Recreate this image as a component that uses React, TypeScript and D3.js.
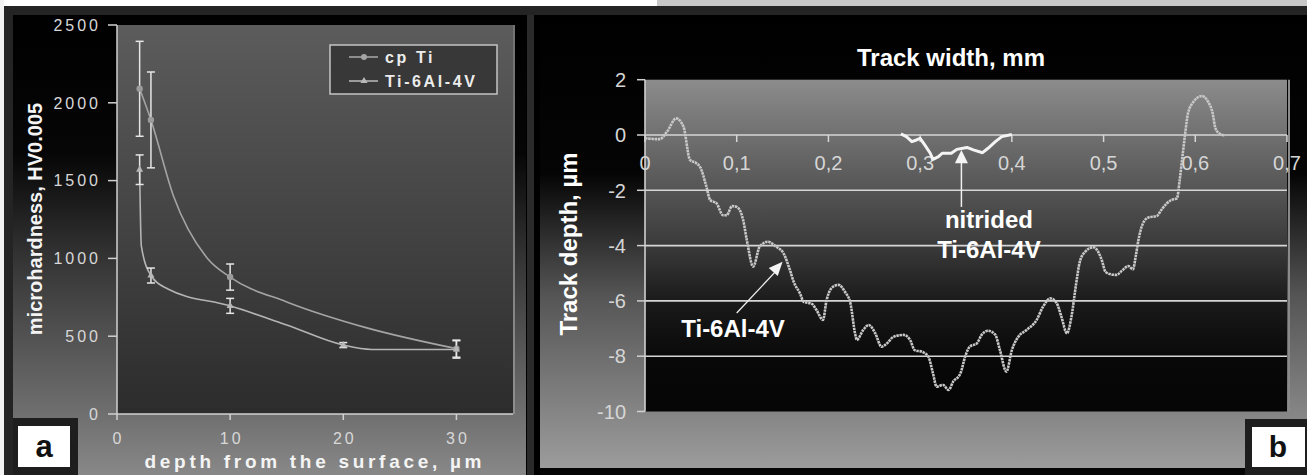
import React from 'react';
import * as d3 from 'd3';

// ---- panel a : microhardness vs depth ----
const cpTiDepth = [2, 3, 10, 30];
const cpTiMean = [2090, 1890, 880, 420];
const cpTiErr = [305, 308, 84, 55];
const cpTiCurveDepth = [2, 3, 5, 8, 10, 15, 22, 30];
const cpTiCurve = [2090, 1890, 1400, 1000, 880, 720, 555, 420];

const tiAlDepth = [2, 3, 10, 20, 30];
const tiAlMean = [1570, 890, 695, 443, 415];
const tiAlErr = [95, 48, 48, 16, 56];
const tiAlCurveDepth = [2, 2.15, 3, 4.5, 10, 15, 20, 22.5, 30];
const tiAlCurve = [1570, 1080, 890, 803, 695, 572, 443, 415, 415];

const hardTicks = [0, 500, 1000, 1500, 2000, 2500];
const depthTicks = [0, 10, 20, 30];

// ---- panel b : wear track profile ----
const profileWidth = [0, 0.016, 0.024, 0.034, 0.042, 0.049, 0.056, 0.06, 0.067, 0.071, 0.078, 0.085, 0.089, 0.095, 0.1,
  0.107, 0.111, 0.118, 0.125, 0.134, 0.143, 0.151, 0.158, 0.162, 0.169, 0.173, 0.182, 0.187, 0.194, 0.198, 0.205,
  0.211, 0.218, 0.224, 0.229, 0.231, 0.238, 0.244, 0.251, 0.258, 0.264, 0.271, 0.282, 0.289, 0.294, 0.302, 0.309,
  0.314, 0.318, 0.325, 0.331, 0.336, 0.344, 0.349, 0.354, 0.362, 0.367, 0.374, 0.382, 0.387, 0.394, 0.4, 0.407,
  0.416, 0.427, 0.434, 0.442, 0.449, 0.454, 0.46, 0.465, 0.47, 0.474, 0.48, 0.489, 0.494, 0.498, 0.502, 0.507,
  0.514, 0.52, 0.527, 0.532, 0.535, 0.538, 0.543, 0.549, 0.558, 0.563, 0.569, 0.574, 0.58, 0.583, 0.586, 0.589,
  0.592, 0.598, 0.607, 0.614, 0.619, 0.622, 0.627, 0.632];
const profileDepth = [-0.12, -0.15, 0.12, 0.6, 0.3, -0.9, -1.02, -1.15, -1.87, -2.35, -2.47, -2.9, -2.9, -2.57, -2.6,
  -3.07, -3.8, -4.76, -4.04, -3.86, -4.04, -4.28, -4.88, -5.3, -5.73, -6.03, -6.11, -6.33, -6.69, -5.97, -5.49,
  -5.42, -5.67, -6.09, -7.17, -7.41, -7.05, -6.87, -7.17, -7.66, -7.53, -7.3, -7.23, -7.41, -7.78, -7.84, -8.02,
  -8.62, -9.1, -9.04, -9.22, -8.92, -8.62, -8.02, -7.66, -7.53, -7.23, -7.08, -7.23, -7.78, -8.56, -7.78, -7.3,
  -7.05, -6.69, -6.21, -5.91, -6.09, -6.57, -7.17, -6.57, -5.4, -4.6, -4.22, -4.06, -4.22, -4.52, -4.94, -5.03,
  -5.06, -4.91, -4.74, -4.86, -4.4, -3.8, -3.19, -2.98, -2.93, -2.71, -2.47, -2.35, -2.29, -1.63, -0.78, 0.06,
  0.78, 1.2, 1.41, 1.2, 0.78, 0.24, 0.04, -0.02];

const nitridedWidth = [0.279, 0.285, 0.291, 0.296, 0.3, 0.305, 0.311, 0.314, 0.32, 0.324, 0.334, 0.34, 0.351, 0.358,
  0.368, 0.374, 0.382, 0.389, 0.4];
const nitridedDepth = [0.04, -0.06, -0.24, -0.18, -0.12, -0.36, -0.66, -0.88, -0.78, -0.66, -0.66, -0.52, -0.45,
  -0.54, -0.64, -0.48, -0.24, -0.06, 0.02];

const trackDepthTicks = [-10, -8, -6, -4, -2, 0, 2];
const trackGrid = [-8, -6, -4, -2, 0];
const trackWidthTicks = [0, 0.1, 0.2, 0.3, 0.4, 0.5, 0.6, 0.7];

const FONT = 'Liberation Sans, Arial, sans-serif';

const App = () => {
  const xA = d3.scaleLinear().domain([0, 35]).range([117, 513]);
  const yA = d3.scaleLinear().domain([0, 2500]).range([414, 25]);
  const xB = d3.scaleLinear().domain([0, 0.7]).range([645, 1287]);
  const yB = d3.scaleLinear().domain([-10, 2]).range([411.5, 79.7]);

  const lineA = d3.line<[number, number]>()
    .x(d => xA(d[0]))
    .y(d => yA(d[1]))
    .curve(d3.curveMonotoneX);

  const cpTiPath = lineA(cpTiCurveDepth.map((d, i) => [d, cpTiCurve[i]]));
  const tiAlPath = lineA(tiAlCurveDepth.map((d, i) => [d, tiAlCurve[i]]));

  const profilePath = d3.line<[number, number]>()
    .x(d => xB(d[0]))
    .y(d => yB(d[1]))
    .curve(d3.curveMonotoneX)(profileWidth.map((d, i) => [d, profileDepth[i]]));

  const nitridedPath = d3.line<[number, number]>()
    .x(d => xB(d[0]))
    .y(d => yB(d[1]))(nitridedWidth.map((d, i) => [d, nitridedDepth[i]]));

  const tri = d3.symbol().type(d3.symbolTriangle).size(22)();
  const commaFmt = (v: number) => (v === 0 ? '0' : v.toFixed(1).replace('.', ','));

  const errBar = (x: number, m: number, e: number, key: string) => (
    <g key={key} stroke="#e6e6e6" strokeWidth={1.5}>
      <line x1={xA(x)} x2={xA(x)} y1={yA(m + e)} y2={yA(m - e)} />
      <line x1={xA(x) - 4} x2={xA(x) + 4} y1={yA(m + e)} y2={yA(m + e)} />
      <line x1={xA(x) - 4} x2={xA(x) + 4} y1={yA(m - e)} y2={yA(m - e)} />
    </g>
  );

  return (
    <svg width={1307} height={475} style={{position: 'absolute', left: 0, top: 0, display: 'block'}} fontFamily={FONT}>
      <defs>
        <linearGradient id="bgA" x1="0" y1="0" x2="0" y2="1">
          <stop offset="0" stopColor="#000" />
          <stop offset="0.3" stopColor="#060606" />
          <stop offset="0.55" stopColor="#383838" />
          <stop offset="0.85" stopColor="#6c6c6c" />
          <stop offset="1" stopColor="#888" />
        </linearGradient>
        <linearGradient id="plotA" x1="0" y1="0" x2="0" y2="1">
          <stop offset="0" stopColor="#5c5c5c" />
          <stop offset="1" stopColor="#2c2c2c" />
        </linearGradient>
        <linearGradient id="bgB" x1="0" y1="0" x2="0" y2="1">
          <stop offset="0" stopColor="#000" />
          <stop offset="0.35" stopColor="#050505" />
          <stop offset="0.62" stopColor="#555" />
          <stop offset="0.85" stopColor="#808080" />
          <stop offset="1" stopColor="#9c9c9c" />
        </linearGradient>
        <linearGradient id="plotB" x1="0" y1="0" x2="0" y2="1">
          <stop offset="0" stopColor="#8c8c8c" />
          <stop offset="0.33" stopColor="#555" />
          <stop offset="0.5" stopColor="#3a3a3a" />
          <stop offset="0.67" stopColor="#1a1a1a" />
          <stop offset="0.85" stopColor="#080808" />
          <stop offset="1" stopColor="#050505" />
        </linearGradient>
      </defs>

      {/* frame */}
      <rect x={0} y={0} width={1307} height={475} fill="#242424" />
      <rect x={0} y={0} width={657} height={6} fill="#fff" />
      <rect x={657} y={0} width={650} height={6} fill="#c8c8c8" />
      <rect x={0} y={0} width={4} height={475} fill="#f2f2f2" />

      {/* ===== panel a ===== */}
      <rect x={13} y={15} width={513} height={460} fill="url(#bgA)" />
      <rect x={526} y={15} width={14} height={460} fill="#000" />
      <rect x={527} y={15} width={7} height={460} fill="#2a2a2a" />
      <rect x={xA(0)} y={yA(2500)} width={xA(35) - xA(0)} height={yA(0) - yA(2500)} fill="url(#plotA)" />
      <line x1={xA(35) + 1} x2={xA(35) + 1} y1={yA(2500)} y2={yA(0)} stroke="#9a9a9a" strokeWidth={1.5} />

      {/* axes a */}
      <line x1={xA(0)} x2={xA(0)} y1={yA(2500)} y2={yA(0)} stroke="#d0d0d0" strokeWidth={1.5} />
      <line x1={xA(0)} x2={xA(35)} y1={yA(0)} y2={yA(0)} stroke="#d0d0d0" strokeWidth={1.5} />
      {hardTicks.map(t => (
        <g key={'ha' + t}>
          <line x1={xA(0) - 9} x2={xA(0)} y1={yA(t)} y2={yA(t)} stroke="#d0d0d0" strokeWidth={1.5} />
          <text x={xA(0) - 16} y={yA(t)} dy="0.36em" textAnchor="end" fontSize={16} letterSpacing={3}
            fill="#d8d8d8">{t}</text>
        </g>
      ))}
      {depthTicks.map(t => (
        <g key={'da' + t}>
          <line x1={xA(t)} x2={xA(t)} y1={yA(0)} y2={yA(0) + 6} stroke="#d0d0d0" strokeWidth={1.5} />
          <text x={xA(t) + 1.5} y={444} textAnchor="middle" fontSize={16} letterSpacing={3}
            fill="#d8d8d8">{t}</text>
        </g>
      ))}
      <text transform="translate(42,219) rotate(-90)" textAnchor="middle" fontSize={20} fontWeight="bold"
        fill="#f4f4f4">microhardness, HV0.005</text>
      <text x={313} y={468} textAnchor="middle" fontSize={19} fontWeight="bold" fill="#f4f4f4"
        textLength={337} lengthAdjust="spacing">depth from the surface, µm</text>

      {/* series a */}
      <path d={cpTiPath || ''} fill="none" stroke="#a4a4a4" strokeWidth={1.6} />
      <path d={tiAlPath || ''} fill="none" stroke="#b4b4b4" strokeWidth={1.6} />
      {cpTiDepth.map((d, i) => errBar(d, cpTiMean[i], cpTiErr[i], 'ec' + i))}
      {tiAlDepth.map((d, i) => errBar(d, tiAlMean[i], tiAlErr[i], 'et' + i))}
      {cpTiDepth.map((d, i) => (
        <circle key={'mc' + i} cx={xA(d)} cy={yA(cpTiMean[i])} r={3.2} fill="#9c9c9c" />
      ))}
      {tiAlDepth.map((d, i) => (
        <path key={'mt' + i} d={tri || ''} transform={`translate(${xA(d)},${yA(tiAlMean[i])})`} fill="#b8b8b8" />
      ))}

      {/* legend a */}
      <rect x={330} y={45} width={167} height={49} fill="#383838" stroke="#c4c4c4" strokeWidth={1.5} />
      <line x1={349} x2={378} y1={57} y2={57} stroke="#a4a4a4" strokeWidth={1.6} />
      <circle cx={364} cy={57} r={3} fill="#a4a4a4" />
      <text x={385} y={63} fontSize={16} fontWeight="bold" letterSpacing={2.6} fill="#ececec">cp Ti</text>
      <line x1={349} x2={378} y1={81} y2={81} stroke="#b4b4b4" strokeWidth={1.6} />
      <path d={tri || ''} transform="translate(364,81)" fill="#b8b8b8" />
      <text x={385} y={87} fontSize={16} fontWeight="bold" letterSpacing={2.6} fill="#ececec">Ti-6Al-4V</text>

      {/* label a */}
      <rect x={13} y={418} width={65} height={57} fill="#1e1e1e" />
      <rect x={18} y={426} width={52} height={41} fill="#fff" />
      <text x={44} y={457} textAnchor="middle" fontSize={31} fontWeight="bold" fill="#111">a</text>

      {/* ===== panel b ===== */}
      <rect x={540} y={15} width={767} height={453} fill="url(#bgB)" />
      <rect x={xB(0)} y={yB(2)} width={xB(0.7) - xB(0)} height={yB(-10) - yB(2)} fill="url(#plotB)" />
      <line x1={xB(0.7) + 2} x2={xB(0.7) + 2} y1={yB(2)} y2={yB(-10)} stroke="#8a8a8a" strokeWidth={2} />

      <text x={951} y={66} textAnchor="middle" fontSize={24} fontWeight="bold" fill="#fff">Track width, mm</text>
      <text transform="translate(577,244) rotate(-90)" textAnchor="middle" fontSize={24} fontWeight="bold"
        fill="#fff">Track depth, µm</text>

      {trackGrid.map(t => (
        <line key={'g' + t} x1={xB(0)} x2={xB(0.7)} y1={yB(t)} y2={yB(t)} stroke="#d6d6d6" strokeWidth={1.6} />
      ))}
      <line x1={xB(0)} x2={xB(0)} y1={yB(2)} y2={yB(-10)} stroke="#d0d0d0" strokeWidth={1.6} />
      {trackDepthTicks.map(t => (
        <g key={'td' + t}>
          <line x1={xB(0) - 8} x2={xB(0)} y1={yB(t)} y2={yB(t)} stroke="#d0d0d0" strokeWidth={1.5} />
          <text x={626} y={yB(t)} dy="0.36em" textAnchor="end" fontSize={20} fill="#d6d6d6">{t}</text>
        </g>
      ))}
      {trackWidthTicks.map(t => (
        <g key={'tw' + t}>
          <line x1={xB(t)} x2={xB(t)} y1={yB(0)} y2={yB(0) + 7} stroke="#d6d6d6" strokeWidth={1.5} />
          <text x={xB(t)} y={170} textAnchor="middle" fontSize={20} fill="#d6d6d6">{commaFmt(t)}</text>
        </g>
      ))}

      {/* profiles */}
      <path d={profilePath || ''} fill="none" stroke="#c8c8c8" strokeWidth={2.6} strokeDasharray="2.5 0.7" />
      <path d={nitridedPath || ''} fill="none" stroke="#f4f4f4" strokeWidth={3} strokeLinejoin="round" />

      {/* annotations */}
      <line x1={xB(0.345)} x2={xB(0.345)} y1={yB(-2.6)} y2={yB(-0.95)} stroke="#f0f0f0" strokeWidth={1.5} />
      <path d={`M${xB(0.345)},${yB(-0.54)} L${xB(0.345) - 6.5},${yB(-1.02)} L${xB(0.345) + 6.5},${yB(-1.02)} Z`}
        fill="#f4f4f4" />
      <text x={xB(0.375)} y={yB(-3.36)} textAnchor="middle" fontSize={24} fontWeight="bold" fill="#fff">nitrided</text>
      <text x={xB(0.375)} y={yB(-4.45)} textAnchor="middle" fontSize={24} fontWeight="bold" fill="#fff">Ti-6Al-4V</text>

      <line x1={xB(0.1)} x2={xB(0.142)} y1={yB(-6.44)} y2={yB(-4.95)} stroke="#f0f0f0" strokeWidth={1.3} />
      <path d={(() => {
        const tx = xB(0.15), ty = yB(-4.58);
        const fx = xB(0.1), fy = yB(-6.44);
        const ang = Math.atan2(ty - fy, tx - fx);
        const len = 14, half = 6;
        const bx = tx - len * Math.cos(ang), by = ty - len * Math.sin(ang);
        const px = -Math.sin(ang) * half, py = Math.cos(ang) * half;
        return `M${tx},${ty} L${bx + px},${by + py} L${bx - px},${by - py} Z`;
      })()} fill="#f4f4f4" />
      <text x={xB(0.096)} y={yB(-7.3)} textAnchor="middle" fontSize={24} fontWeight="bold" fill="#fff">Ti-6Al-4V</text>

      {/* label b */}
      <rect x={540} y={468} width={767} height={7} fill="#050505" />
      <rect x={1245} y={419} width={62} height={56} fill="#1e1e1e" />
      <rect x={1252} y={427} width={53} height={40} fill="#fff" />
      <text x={1278} y={457} textAnchor="middle" fontSize={30} fontWeight="bold" fill="#111">b</text>
    </svg>
  );
};

export default App;
